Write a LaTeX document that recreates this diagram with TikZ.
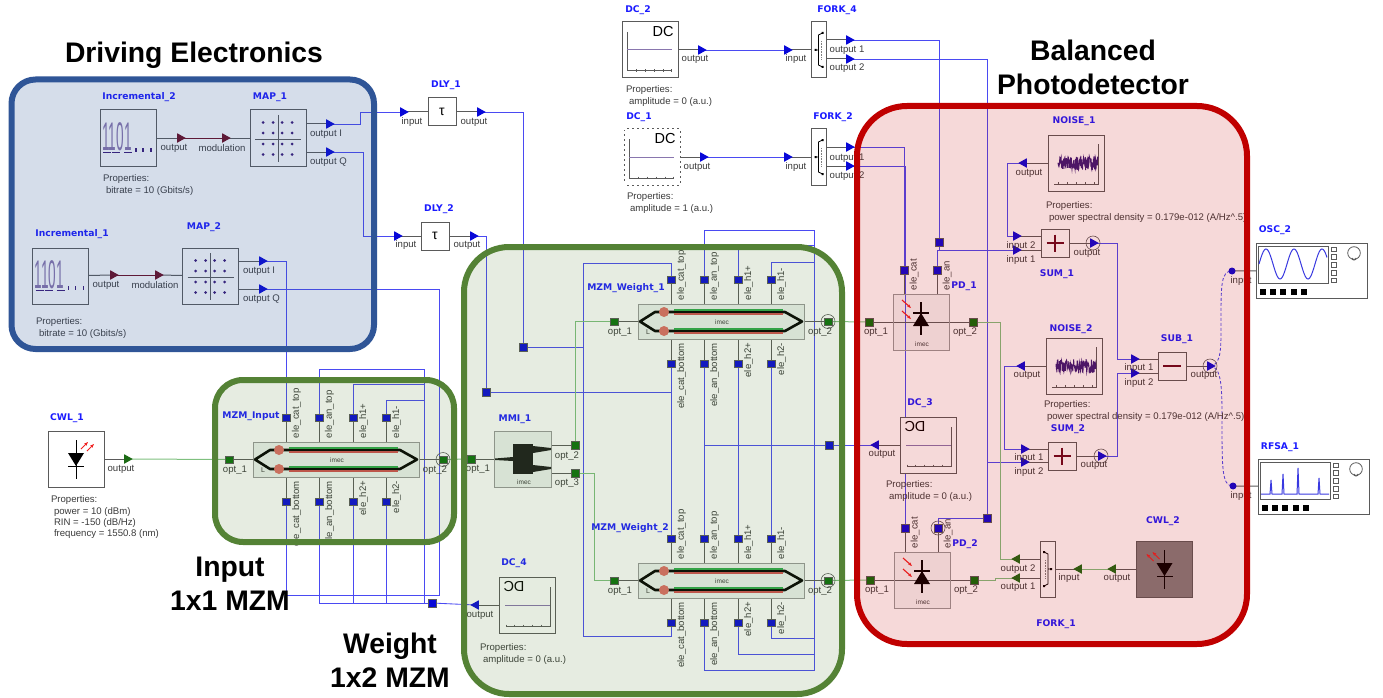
\documentclass[tikz,border=0pt]{standalone}
\usepackage{fontspec}
\setmainfont{Liberation Sans}
\newfontfamily\tagfont{DejaVu Sans}
\usetikzlibrary{shapes.geometric, arrows.meta, backgrounds}
\definecolor{drivecolor}{HTML}{2F5597}
\definecolor{mzmcolor}{HTML}{548235}
\definecolor{pdcolor}{HTML}{C00000}
\definecolor{boxgray}{HTML}{5A5A5A}
\definecolor{textgray}{HTML}{3A3A3A}
\definecolor{namecolor}{HTML}{1A1AFF}
\definecolor{wireblue}{HTML}{4A4AF2}
\definecolor{tipblue}{HTML}{0808D8}
\definecolor{tipgreen}{HTML}{1C6A14}
\definecolor{tipred}{HTML}{6A0A20}
\definecolor{optgreen}{HTML}{7FC07F}
\definecolor{portgreen}{HTML}{0B700B}
\definecolor{bodygray}{HTML}{EEF3F0}
\definecolor{noisecolor}{HTML}{3A1A78}
\definecolor{laserred}{HTML}{F02020}
\definecolor{armred}{HTML}{D05050}
\definecolor{armgreen}{HTML}{2EA84A}
\definecolor{spotred}{HTML}{DE6E66}
\definecolor{laserbody}{HTML}{827E7E}

\begin{document}
\begin{tikzpicture}[
    x=1pt, y=-1pt,
    every node/.style={font=\fontsize{9.6}{11.3}\selectfont, text=textgray, inner sep=0pt, outer sep=0pt},
    title/.style={font=\fontsize{28.3}{34}\selectfont\bfseries, text=black, align=center},
    tagname/.style={font=\fontsize{9.2}{10}\selectfont\tagfont\bfseries, text=namecolor},
    props/.style={anchor=north west, align=left},
    block/.style={draw=boxgray, line width=1pt, fill=white, minimum width=56pt, minimum height=56pt},
    smallblock/.style={draw=boxgray, line width=1pt, fill=white, minimum width=28pt, minimum height=28pt},
    forkblock/.style={draw=boxgray, line width=1pt, fill=white, minimum width=15pt, minimum height=56pt},
    body/.style={draw=gray!80, line width=1pt, fill=bodygray},
    elport/.style={draw=boxgray, line width=.4pt, fill=tipblue, minimum width=7.5pt, minimum height=7.5pt},
    optport/.style={draw=boxgray, line width=.4pt, fill=portgreen, minimum width=7.5pt, minimum height=7.5pt},
    inport/.style={circle, fill=tipblue, minimum size=7pt},
    ringmark/.style={circle, draw=boxgray, line width=.6pt, minimum size=14pt},
    tipr/.style={isosceles triangle, isosceles triangle stretches, fill=#1, minimum width=9.5pt, minimum height=8.5pt},
    tipl/.style={tipr=#1, shape border rotate=180},
    stub/.style={draw=boxgray, line width=1pt},
    elwire/.style={draw=wireblue, line width=.85pt},
    optwire/.style={draw=optgreen, line width=1pt},
    laser/.style={draw=laserred, line width=1.1pt, -{Stealth[length=4pt]}},
    panel/.style={draw=#1, fill=#1, fill opacity=.15, draw opacity=1, line width=6pt},
    mzmbox/.pic={
        \foreach \px/\pn/\pt in {-50/cattop/ele\_cat\_top, -17/antop/ele\_an\_top, 17/hop/ele\_h1+, 50/hom/ele\_h1-} {
            \draw[stub] (\px,-18) -- (\px,-42);
            \node[elport] (-\pn) at (\px,-42) {};
            \node[rotate=90, anchor=west] (-\pn l) at (\px+10.5,-21.5) {\pt};
        }
        \foreach \px/\pn/\pt in {-50/catbot/ele\_cat\_bottom, -17/anbot/ele\_an\_bottom, 17/hbp/ele\_h2+, 50/hbm/ele\_h2-} {
            \draw[stub] (\px,18) -- (\px,42);
            \node[elport] (-\pn) at (\px,42) {};
            \node[rotate=90, anchor=east] (-\pn l) at (\px+10.5,21.5) {\pt};
        }
        \draw[stub] (-107,0) -- (107,0);
        \node[body, minimum width=166pt, minimum height=35pt] (-body) at (0,0) {};
        \draw[line width=2.4pt, draw=armgreen] (-47,-11.5) -- (62,-11.5) (-47,7.5) -- (62,7.5);
        \draw[line width=2.4pt, draw=armred] (-47,-7.5) -- (62,-7.5) (-47,11.5) -- (62,11.5);
        \draw[line width=1.2pt] (-47,-9.5) -- (62,-9.5) (-47,9.5) -- (62,9.5);
        \draw[line width=2.6pt, line join=round] (-47,-9.5) -- (-66,-9.5) -- (-81,0) -- (-66,9.5) -- (-47,9.5);
        \draw[line width=2.6pt, line join=round] (62,-9.5) -- (64,-9.5) -- (81,0) -- (64,9.5) -- (62,9.5);
        \fill[spotred] (-57,-9.5) circle (5) (-57,9.5) circle (5);
        \node[font=\fontsize{6.5}{8}\selectfont] (-logo) at (1,0.5) {imec};
        \node[font=\fontsize{7}{8}\selectfont] (-ell) at (-73,11) {L};
        \node[optport] (-opt1) at (-107,0) {};
        \node[optport] (-opt2) at (107,0) {};
        \node[ringmark] (-ring) at (107,0) {};
        \node (-opt1l) at (-101,10.5) {opt\_1};
        \node (-opt2l) at (99,10.5) {opt\_2};
    },
    pdbox/.pic={
        \draw[stub] (-52,0) -- (52,0);
        \draw[stub] (-17,-52) -- (-17,-28) (16,-52) -- (16,-28);
        \node[draw=gray!80, line width=1pt, fill=gray, fill opacity=.07, minimum width=56pt, minimum height=56pt] (-box) at (0,0) {};
        \draw[line width=2.6pt] (0,-20) -- (0,13) (-8,-9) -- (8,-9);
        \fill (0,-9) -- (-8,4) -- (8,4) -- cycle;
        \draw[laser] (-19,-22) -- (-10,-14);
        \draw[laser] (-19,-11) -- (-10,-3);
        \node[font=\fontsize{6.5}{8}\selectfont] (-logo) at (1,22) {imec};
        \node[optport] (-opt1) at (-52,0) {};
        \node[optport] (-opt2) at (52,0) {};
        \node[elport] (-cat) at (-17,-52) {};
        \node[elport] (-an) at (16,-52) {};
        \node (-opt1l) at (-45,10) {opt\_1};
        \node (-opt2l) at (44,10) {opt\_2};
        \node[rotate=90, anchor=west] (-catl) at (-7,-32) {ele\_cat};
        \node[rotate=90, anchor=west] (-anl) at (26,-32) {ele\_an};
    },
    dcbox/.pic={
        \node[block] (-box) at (0,0) {};
        \draw[boxgray, line width=1pt] (-23,-18) -- (-23,21) -- (21,21);
        \foreach \tx in {-14,-5,4,13,21} { \draw[boxgray, line width=.7pt] (\tx,19.5) -- (\tx,22); }
        \draw[noisecolor!60, line width=1pt] (-23,0) -- (22,0);
        \node[transform shape, font=\fontsize{14.5}{16}\selectfont, text=black] (-dc) at (13,-18) {DC};
    },
    noisebox/.pic={
        \node[block] (-box) at (0,0) {};
        \draw[boxgray, line width=1pt] (22,-19) -- (22,21) -- (-22,21);
        \foreach \tx in {-18,-9,0,9,18} { \draw[boxgray, line width=.7pt] (\tx,19) -- (\tx,21); }
        \draw[noisecolor, line width=.9pt] plot[domain=-18:22, samples=130] (\x,{-7*rand});
    },
    incbox/.pic={
        \node[block] (-box) at (0,0) {};
        \node[font=\fontsize{40}{44}\selectfont, text=noisecolor!60, xscale=.34, transform shape] (-bits) at (-11,-1) {1101};
        \foreach \tx in {-21,-12,0} { \draw[noisecolor, line width=.8pt] (\tx-4,14) -- (\tx+4,14); }
        \foreach \tx in {8,15,23} { \draw[noisecolor, line width=1.6pt] (\tx,10) -- (\tx,14); }
    },
    mapbox/.pic={
        \node[block] (-box) at (0,0) {};
        \draw[boxgray, line width=1pt] (-23,1) -- (23,1) (0,-23) -- (0,24);
        \foreach \dx in {-15,-5,4,14} { \foreach \dy in {-15.5,-5,6,16.5} { \fill[noisecolor] (\dx,\dy) circle (1.5); } }
    },
    cwlbox/.pic={
        \node[block, fill=#1] (-box) at (0,0) {};
        \draw[black, line width=.8pt] (0,-19) -- (0,20) (-8,7) -- (8,7);
        \fill[black] (-8,-6) -- (8,-6) -- (0,7) -- cycle;
        \draw[laser, line width=.8pt] (5,-10) -- (12,-17);
        \draw[laser, line width=.8pt] (11,-8) -- (18,-15);
    },
    forkbox/.pic={
        \node[forkblock] (-box) at (0,0) {};
        \draw[black, line width=.8pt] (4,-17) -- (0,-15) -- (0,15) -- (4,17) (-3,0) -- (0,0);
        \fill[black] (3,-18) rectangle (5,-16) (3,16) rectangle (5,18) (-4,-1) rectangle (-2,1);
        \draw[gray, densely dotted, line width=.6pt] (3,-9) -- (3,9);
    },
    sumbox/.pic={
        \node[smallblock] (-box) at (0,0) {};
        \draw[tipred, line width=2pt] (-8.5,0) -- (8.5,0) (0,-8.5) -- (0,8.5);
    },
    subbox/.pic={
        \node[smallblock] (-box) at (0,0) {};
        \draw[tipred, line width=2pt] (-9,0) -- (9,0);
    },
    instrbox/.pic={
        \node[draw=boxgray, line width=1pt, fill=white, minimum width=111pt, minimum height=55pt] (-box) at (0,0) {};
        \node[draw=boxgray, line width=1pt, minimum width=70pt, minimum height=37pt] (-screen) at (-18.5,-6) {};
        \foreach \i in {0,...,4} {
            \draw[boxgray, line width=.8pt] (20,-23.5+7.8*\i) rectangle ++(5,4.5);
            \fill[black] (-51.5+10.2*\i,18.5) rectangle ++(6,6);
        }
        \draw[boxgray, line width=.8pt] (42.5,-17.5) circle (6.3);
        \draw[boxgray, line width=1pt] (40.5,-12.5) arc (180:0:2);
    },
]

\useasboundingbox (0,0) rectangle (1383,698);
\pgfmathsetseed{11}

%% Driving electronics
\pic (inc2) at (128,138) {incbox};
\pic (map1) at (278,138) {mapbox};
\node[tagname] (inc2name) at (139,97) {Incremental\_2};
\node[tagname] (map1name) at (270,97) {MAP\_1};
\node[tipr=tipred] (inc2out) at (180,138) {};
\node[tipr=tipred] (map1mod) at (225,138) {};
\node (inc2outl) at (174,148) {output};
\node (map1modl) at (222,148) {modulation};
\node[tipr=tipblue] (map1oi) at (329,124) {};
\node[tipr=tipblue] (map1oq) at (329,152) {};
\node[anchor=west] (map1oil) at (310,134) {output I};
\node[anchor=west] (map1oql) at (310,162) {output Q};
\node[props] (inc2props) at (103,175) {Properties:\\\hspace*{3pt}bitrate = 10 (Gbits/s)};

\pic (inc1) at (60.5,276) {incbox};
\pic (map2) at (210.5,276) {mapbox};
\node[tagname] (inc1name) at (72,234) {Incremental\_1};
\node[tagname] (map2name) at (204,227) {MAP\_2};
\node[tipr=tipred] (inc1out) at (113,275) {};
\node[tipr=tipred] (map2mod) at (158,275) {};
\node (inc1outl) at (106,285) {output};
\node (map2modl) at (155,285) {modulation};
\node[tipr=tipblue] (map2oi) at (262,261) {};
\node[tipr=tipblue] (map2oq) at (262,289) {};
\node[anchor=west] (map2oil) at (243,271) {output I};
\node[anchor=west] (map2oql) at (243,299) {output Q};
\node[props] (inc1props) at (36,318) {Properties:\\\hspace*{3pt}bitrate = 10 (Gbits/s)};

%% Delays
\node[smallblock, font=\fontsize{14}{16}\selectfont, text=black] (dly1) at (442,112) {τ};
\node[tagname] (dly1name) at (446,85) {DLY\_1};
\node[tipr=tipblue] (dly1in) at (403,112) {};
\node[tipr=tipblue] (dly1out) at (480,112) {};
\node (dly1inl) at (412,122) {input};
\node (dly1outl) at (474,122) {output};
\node[smallblock, font=\fontsize{14}{16}\selectfont, text=black] (dly2) at (435,236) {τ};
\node[tagname] (dly2name) at (439,209) {DLY\_2};
\node[tipr=tipblue] (dly2in) at (397,236) {};
\node[tipr=tipblue] (dly2out) at (473,236) {};
\node (dly2inl) at (406,245) {input};
\node (dly2outl) at (467,245) {output};

%% Laser and input modulator
\pic (cwl1) at (76,459) {cwlbox=white};
\node[tagname] (cwl1name) at (67,418) {CWL\_1};
\node[tipr=tipgreen] (cwl1out) at (127,459) {};
\node (cwl1outl) at (121,469) {output};
\node[props] (cwl1props) at (51,496) {Properties:\\\hspace*{3pt}power = 10 (dBm)\\\hspace*{3pt}RIN = -150 (dB/Hz)\\\hspace*{3pt}frequency = 1550.8 (nm)};
\pic (mzmi) at (336,459.5) {mzmbox};
\node[tagname] (mzminame) at (251,416) {MZM\_Input};

%% Splitter and weight modulators
\node[body, minimum width=57pt, minimum height=56pt] (mmi1) at (522.5,459) {};
\node[fill=black!90, minimum width=20pt, minimum height=30pt] (mmi1core) at (523,459) {};
\fill[black!90] (mmi1core.north east) ++(0,2) -- ++(18,2) -- ++(0,2) -- ++(-18,3) -- cycle;
\fill[black!90] (mmi1core.south east) ++(0,-9) -- ++(18,2) -- ++(0,2) -- ++(-18,3) -- cycle;
\fill[black!90] (mmi1core.west) ++(0,-2) -- ++(-18,1.5) -- ++(0,1.5) -- ++(18,1) -- cycle;
\node[font=\fontsize{6.5}{8}\selectfont] (mmi1logo) at (524,482) {imec};
\node[tagname] (mmi1name) at (515,419) {MMI\_1};
\node[optport] (mmi1opt1) at (471,459) {};
\node[optport] (mmi1opt2) at (575,445) {};
\node[optport] (mmi1opt3) at (575,473) {};
\node (mmi1opt1l) at (478,469) {opt\_1};
\node (mmi1opt2l) at (567,456) {opt\_2};
\node (mmi1opt3l) at (567,483) {opt\_3};
\pic (mzmw1) at (721,321.5) {mzmbox};
\pic (mzmw2) at (721,580.5) {mzmbox};
\node[tagname] (mzmw1name) at (626,288) {MZM\_Weight\_1};
\node[tagname] (mzmw2name) at (630,528) {MZM\_Weight\_2};
\node[elport] (jdly1) at (523,347) {};
\node[elport] (jdly2) at (486,392) {};
\node[elport] (jdc3) at (829,445) {};
\node[elport] (jdc4) at (432,603) {};
\pic[xscale=-1] (dc4) at (527,605) {dcbox};
\node[tagname] (dc4name) at (514,563) {DC\_4};
\node[tipl=tipblue] (dc4out) at (476,605) {};
\node (dc4outl) at (480,615) {output};
\node[props] (dc4props) at (480,644) {Properties:\\\hspace*{3pt}amplitude = 0 (a.u.)};

%% Bias sources
\pic (dc2) at (650,50) {dcbox};
\node[tagname] (dc2name) at (638,10) {DC\_2};
\node[tipr=tipblue] (dc2out) at (701,50) {};
\node (dc2outl) at (695,59) {output};
\node[props] (dc2props) at (626,86) {Properties:\\\hspace*{3pt}amplitude = 0 (a.u.)};
\pic (fork4) at (818.5,50) {forkbox};
\node[tagname] (fork4name) at (837,10) {FORK\_4};
\node[tipr=tipblue] (fork4in) at (787,50) {};
\node (fork4inl) at (796,59) {input};
\node[tipr=tipblue] (fork4o1) at (849,40) {};
\node[tipr=tipblue] (fork4o2) at (849,59) {};
\node (fork4o1l) at (847,50) {output 1};
\node (fork4o2l) at (847,68) {output 2};
\pic (dc1) at (652,157) {dcbox};
\node[draw=white, densely dashed, line width=1.1pt, minimum width=56pt, minimum height=56pt] (dc1dash) at (652,157) {};
\node[tagname] (dc1name) at (639,117) {DC\_1};
\node[tipr=tipblue] (dc1out) at (703,157) {};
\node (dc1outl) at (697,167) {output};
\node[props] (dc1props) at (627,193) {Properties:\\\hspace*{3pt}amplitude = 1 (a.u.)};
\pic (fork2) at (818.5,157) {forkbox};
\node[tagname] (fork2name) at (833,117) {FORK\_2};
\node[tipr=tipblue] (fork2in) at (787,157) {};
\node (fork2inl) at (796,167) {input};
\node[tipr=tipblue] (fork2o1) at (849,147) {};
\node[tipr=tipblue] (fork2o2) at (849,166) {};
\node (fork2o1l) at (847,158) {output 1};
\node (fork2o2l) at (847,176) {output 2};

%% Balanced photodetector
\pic (pd1) at (921,322) {pdbox};
\pic (pd2) at (922,580) {pdbox};
\node[tagname] (pd1name) at (964,286) {PD\_1};
\node[tagname] (pd2name) at (965,544) {PD\_2};
\node[ringmark] (pd2ring) at (938,528) {};
\node[elport] (jpd1) at (939,242) {};
\node[elport] (jpd2) at (987,518) {};
\pic[xscale=-1] (dc3) at (928,445) {dcbox};
\node[tagname] (dc3name) at (920,403) {DC\_3};
\node[tipl=tipblue] (dc3out) at (876,445) {};
\node (dc3outl) at (882,454) {output};
\node[props] (dc3props) at (886,481) {Properties:\\\hspace*{3pt}amplitude = 0 (a.u.)};

\pic (noise1) at (1076,163) {noisebox};
\node[tagname] (noise1name) at (1074,121) {NOISE\_1};
\node[tipl=tipblue] (noise1out) at (1024,163) {};
\node (noise1outl) at (1029,173) {output};
\node[props] (noise1props) at (1046,202) {Properties:\\\hspace*{3pt}power spectral density = 0.179e-012 (A/Hz\^{}.5)};
\pic (noise2) at (1074,366) {noisebox};
\node[tagname] (noise2name) at (1071,329) {NOISE\_2};
\node[tipl=tipblue] (noise2out) at (1022,366) {};
\node (noise2outl) at (1027,375) {output};
\node[props] (noise2props) at (1044,401) {Properties:\\\hspace*{3pt}power spectral density = 0.179e-012 (A/Hz\^{}.5)};

\pic (sum1) at (1055,243) {sumbox};
\node[tagname] (sum1name) at (1057,274) {SUM\_1};
\node[tipr=tipblue] (sum1in2) at (1016,236) {};
\node[tipr=tipblue] (sum1in1) at (1016,250) {};
\node (sum1in2l) at (1021,246) {input 2};
\node (sum1in1l) at (1021,260) {input 1};
\node[tipr=tipblue] (sum1out) at (1093,243) {};
\node[ringmark] (sum1ring) at (1093,243) {};
\node (sum1outl) at (1087,253) {output};
\pic (sum2) at (1062,456) {sumbox};
\node[tagname] (sum2name) at (1068,429) {SUM\_2};
\node[tipr=tipblue] (sum2in1) at (1024,449) {};
\node[tipr=tipblue] (sum2in2) at (1024,462) {};
\node (sum2in1l) at (1029,458) {input 1};
\node (sum2in2l) at (1029,472) {input 2};
\node[tipr=tipblue] (sum2out) at (1101,456) {};
\node[ringmark] (sum2ring) at (1101,456) {};
\node (sum2outl) at (1094,465) {output};
\pic (sub1) at (1172,366) {subbox};
\node[tagname] (sub1name) at (1177,339) {SUB\_1};
\node[tipr=tipblue] (sub1in1) at (1134,359) {};
\node[tipr=tipblue] (sub1in2) at (1134,373) {};
\node (sub1in1l) at (1139,368) {input 1};
\node (sub1in2l) at (1139,383) {input 2};
\node[tipr=tipblue] (sub1out) at (1210,366) {};
\node[ringmark] (sub1ring) at (1210,366) {};
\node (sub1outl) at (1204,375) {output};

%% Local oscillator
\pic[xscale=-1] (fork1) at (1048,569) {forkbox};
\node[tagname] (fork1name) at (1056,624) {FORK\_1};
\node[tipl=tipgreen] (fork1o2) at (1017,559) {};
\node[tipl=tipgreen] (fork1o1) at (1017,578) {};
\node (fork1o2l) at (1018,569) {output 2};
\node (fork1o1l) at (1018,587) {output 1};
\node[tipl=tipgreen] (fork1in) at (1079,569) {};
\node (fork1inl) at (1069,578) {input};
\pic[xscale=-1] (cwl2) at (1164.5,569) {cwlbox=laserbody};
\node[tagname] (cwl2name) at (1163,521) {CWL\_2};
\node[tipl=tipgreen] (cwl2out) at (1113,569) {};
\node (cwl2outl) at (1117,578) {output};

%% Instruments
\pic (osc2) at (1311.5,270.5) {instrbox};
\node[tagname] (osc2name) at (1275,230) {OSC\_2};
\draw[tipblue!80, line width=1pt] plot[domain=1259:1327, samples=80] (\x,{264-15*sin((\x-1259)/28*360)});
\node[inport] (oscin) at (1232,271) {};
\node (oscinl) at (1241,281) {input};
\pic (rfsa1) at (1313.5,486.5) {instrbox};
\node[tagname] (rfsa1name) at (1280,447) {RFSA\_1};
\draw[tipblue!80, line width=1pt] (1261,494) -- (1270,494) -- (1271,480) -- (1272,494) -- (1282,494) -- (1283,474) -- (1284,494) -- (1297,494) -- (1298,468) -- (1299,494) -- (1318,494) -- (1319,478) -- (1320,494) -- (1329,494);
\node[inport] (rfsain) at (1233,486) {};
\node (rfsainl) at (1241,496) {input};

%% Connections
\begin{scope}[on background layer]
\draw[stub] (inc2-box) -- (inc2out.center);
\draw[stub] (map1mod.center) -- (map1-box);
\draw[stub] (inc1-box) -- (inc1out.center);
\draw[stub] (map2mod.center) -- (map2-box);
\draw[draw=tipred, line width=1pt] (inc2out.center) -- (map1mod.center);
\draw[draw=tipred, line width=1pt] (inc1out.center) -- (map2mod.center);
\draw[stub] (map1oi.center) -| (map1-box.center);
\draw[stub] (map1oq.center) -| (map1-box.center);
\draw[stub] (map2oi.center) -| (map2-box.center);
\draw[stub] (map2oq.center) -| (map2-box.center);
\draw[stub] (dly1in.center) -- (dly1) -- (dly1out.center);
\draw[stub] (dly2in.center) -- (dly2) -- (dly2out.center);
\draw[stub] (cwl1-box) -- (cwl1out.center);
\draw[stub] (dc4out.center) -- (dc4-box);
\draw[stub] (dc3out.center) -- (dc3-box);
\draw[stub] (dc2-box) -- (dc2out.center);
\draw[stub] (dc1-box) -- (dc1out.center);
\draw[stub] (fork4in.center) -- (fork4-box);
\draw[stub] (fork2in.center) -- (fork2-box);
\draw[stub] (fork4o1.center) -| (fork4-box.center);
\draw[stub] (fork4o2.center) -| (fork4-box.center);
\draw[stub] (fork2o1.center) -| (fork2-box.center);
\draw[stub] (fork2o2.center) -| (fork2-box.center);
\draw[stub] (noise1out.center) -- (noise1-box);
\draw[stub] (noise2out.center) -- (noise2-box);
\draw[stub] (sum1in2.center) -| (sum1-box.center);
\draw[stub] (sum1in1.center) -| (sum1-box.center);
\draw[stub] (sum2in1.center) -| (sum2-box.center);
\draw[stub] (sum2in2.center) -| (sum2-box.center);
\draw[stub] (sub1in1.center) -| (sub1-box.center);
\draw[stub] (sub1in2.center) -| (sub1-box.center);
\draw[stub] (sum1-box) -- (sum1out.center);
\draw[stub] (sum2-box) -- (sum2out.center);
\draw[stub] (sub1-box) -- (sub1out.center);
\draw[stub] (fork1o2.center) -| (fork1-box.center);
\draw[stub] (fork1o1.center) -| (fork1-box.center);
\draw[stub] (fork1in.center) -- (fork1-box);
\draw[stub] (cwl2out.center) -- (cwl2-box);
\draw[stub] (oscin.center) -- (osc2-box);
\draw[stub] (rfsain.center) -- (rfsa1-box);
\draw[stub] (mmi1opt1.center) -- (mmi1core);
\draw[stub] (mmi1opt2.center) -| (mmi1.center);
\draw[stub] (mmi1opt3.center) -| (mmi1.center);

\draw[elwire] (map1oi.center) -- ++(31,0) |- (dly1in.center);
\draw[elwire] (map1oq.center) -- ++(34,0) |- (dly2in.center);
\draw[elwire] (dly1out.center) -| (jdly1.center);
\draw[elwire] (dly2out.center) -| (jdly2.center);
\draw[elwire] (jdly1.center) -- ++(60,0);
\draw[elwire] (mzmw1-cattop.center) -- ++(0,-16) -- ++(-88,0) -- ++(0,373) -| (mzmw2-catbot.center);
\draw[elwire] (jdly2.center) -| (mzmw1-catbot.center);
\draw[elwire] (mzmw1-catbot.center) -- (mzmw2-cattop.center);
\draw[elwire] (mzmw1-anbot.center) -- (mzmw2-antop.center);
\draw[elwire] (mzmw1-hbp.center) -- (mzmw2-hop.center);
\draw[elwire] (mzmw1-hbm.center) -- (mzmw2-hom.center);
\draw[elwire] (mzmw1-antop.center) -- ++(0,-49) -- ++(110,0) -- ++(0,440) -| (mzmw2-anbot.center);
\draw[elwire] (mzmw1-hop.center) -- ++(0,-34) -- ++(76,0);
\draw[elwire] (mzmw1-hom.center) -- ++(0,-17) -- ++(43,0);
\draw[elwire] (mzmw2-hbp.center) -- ++(0,32) -- ++(76,0);
\draw[elwire] (mzmw2-hbm.center) -- ++(0,16) -- ++(43,0);
\draw[elwire] (dc3out.center) -| (mzmw1-anbot.center);
\draw[elwire] (map2oi.center) -| (mzmi-cattop.center);
\draw[elwire] (map2oq.center) -- ++(177,0) -- ++(0,306) -| (mzmi-catbot.center);
\draw[elwire] (mzmi-antop.center) -- ++(0,-48) -- ++(105,0) -- ++(0,234);
\draw[elwire] (mzmi-hop.center) -- ++(0,-33) -- ++(72,0);
\draw[elwire] (mzmi-hom.center) -- ++(0,-17) -- ++(38,0);
\draw[elwire] (mzmi-anbot.center) |- (jdc4.center);
\draw[elwire] (mzmi-hbp.center) |- (jdc4.center);
\draw[elwire] (mzmi-hbm.center) |- (jdc4.center);
\draw[elwire] (jdc4.center) -- (dc4out.center);
\draw[elwire] (dc2out.center) -- (fork4in.center);
\draw[elwire] (dc1out.center) -- (fork2in.center);
\draw[elwire] (fork2o1.center) -| (pd1-cat.center);
\draw[elwire] (fork2o2.center) -| (pd2-cat.center);
\draw[elwire] (fork4o1.center) -| (jpd1.center);
\draw[elwire] (jpd1.center) |- (sum1in1.center);
\draw[elwire] (pd1-an.center) |- (sum1in1.center);
\draw[elwire] (fork4o2.center) -| (jpd2.center);
\draw[elwire] (jpd2.center) -| (pd2-an.center);
\draw[elwire] (sum2in2.center) -| (jpd2.center);
\draw[elwire] (noise1out.center) -- ++(-17,0) |- (sum1in2.center);
\draw[elwire] (noise2out.center) -- ++(-18,0) |- (sum2in1.center);
\draw[elwire] (sum1out.center) -- ++(24,0) |- (sub1in1.center);
\draw[elwire] (sum2out.center) -- ++(16,0) |- (sub1in2.center);
\draw[elwire, densely dashed] (sub1out.center) .. controls (1222,366) and (1221,345) .. (1221,320) .. controls (1221,285) and (1221,271) .. (oscin.center);
\draw[elwire, densely dashed] (sub1out.center) .. controls (1222,366) and (1222,390) .. (1222,420) .. controls (1222,470) and (1222,486) .. (rfsain.center);

\draw[optwire] (cwl1out.center) -- (mzmi-opt1.center);
\draw[optwire] (mzmi-opt2.center) -- (mmi1opt1.center);
\draw[optwire] (mmi1opt2.center) |- (mzmw1-opt1.center);
\draw[optwire] (mmi1opt3.center) -- ++(19,0) |- (mzmw2-opt1.center);
\draw[optwire] (mzmw1-opt2.center) -- (pd1-opt1.center);
\draw[optwire] (mzmw2-opt2.center) -- (pd2-opt1.center);
\draw[optwire] (pd1-opt2.center) -- ++(27,0) |- (fork1o2.center);
\draw[optwire] (pd2-opt2.center) -- ++(21,0) |- (fork1o1.center);
\draw[optwire] (fork1in.center) -- (cwl2out.center);
\end{scope}

%% Coloured panels
\node[panel=drivecolor, fill opacity=.2, rounded corners=24pt, minimum width=362.5pt, minimum height=269.5pt] (drivepanel) at (192.75,214.25) {};
\node[panel=mzmcolor, rounded corners=28pt, minimum width=239pt, minimum height=162pt] (inputpanel) at (334.5,461) {};
\node[panel=mzmcolor, rounded corners=45pt, minimum width=378pt, minimum height=447pt] (weightpanel) at (653,470.5) {};
\node[panel=pdcolor, rounded corners=50pt, minimum width=390pt, minimum height=538pt] (pdpanel) at (1052,375) {};

\node[title] (drivetitle) at (194,55) {Driving Electronics};
\node[title] (pdtitle) at (1093,67) {Balanced\\Photodetector};
\node[title] (inputtitle) at (230,584) {Input\\1x1 MZM};
\node[title] (weighttitle) at (390,660) {Weight\\1x2 MZM};
\end{tikzpicture}
\end{document}
